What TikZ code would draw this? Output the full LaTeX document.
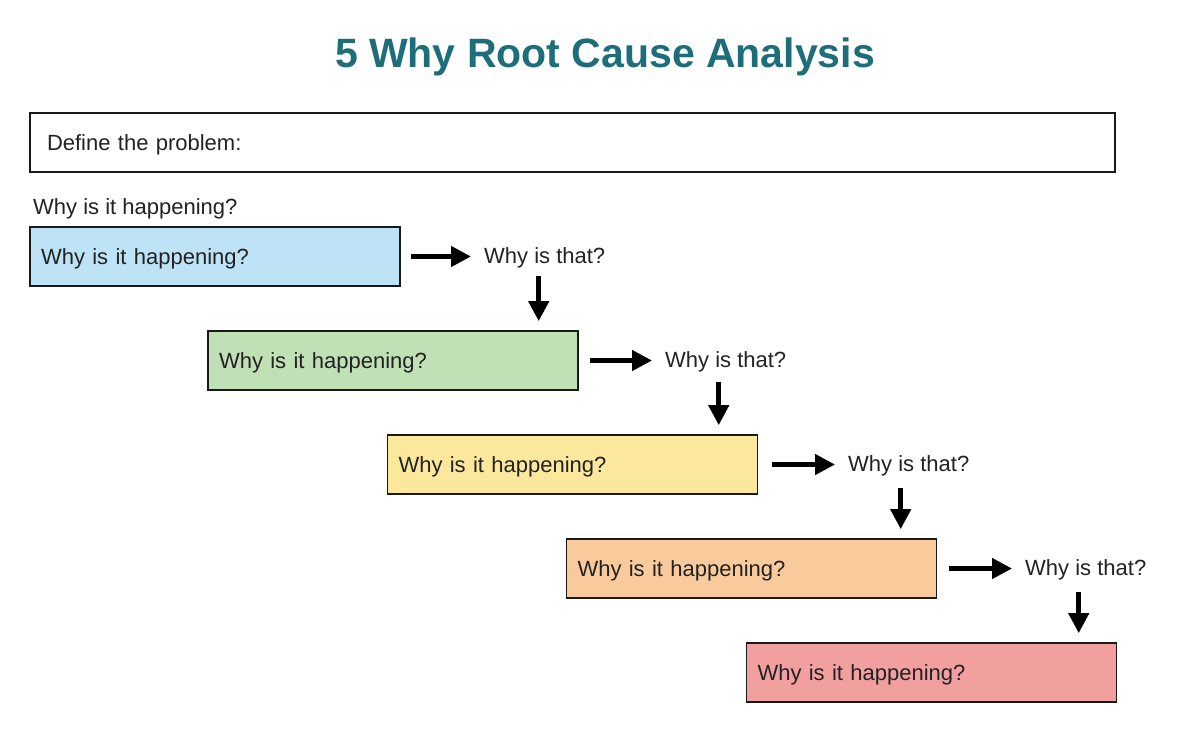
\documentclass[tikz,border=0pt]{standalone}
\usepackage{fontspec}
\setmainfont{Liberation Sans}
\usepackage{xcolor}
\usetikzlibrary{arrows.meta}

\definecolor{TitleTeal}{HTML}{1D6E78}
\definecolor{TextGray}{HTML}{222222}
\definecolor{WhyBlue}{HTML}{BEE3F6}
\definecolor{WhyGreen}{HTML}{C0E0B6}
\definecolor{WhyYellow}{HTML}{FCE89C}
\definecolor{WhyOrange}{HTML}{F8CA9C}
\definecolor{WhyRed}{HTML}{F29F9F}

\tikzset{
  BoxStyle/.style={draw=black!90, line width=1.8pt, minimum width=370pt,
    minimum height=59pt, inner xsep=11pt, text width=348pt, align=left,
    text depth=0pt, font=\fontsize{22}{26}\selectfont, text=TextGray},
  WhyStyle/.style={anchor=west, inner sep=0pt, text depth=0pt,
    font=\fontsize{22}{26}\selectfont, text=TextGray},
  ArrowStyle/.style={line width=4.5pt, -{Triangle[length=20pt,width=20pt]}}
}

\begin{document}
\begin{tikzpicture}[x=1pt,y=-1pt]
  \useasboundingbox (0,0) rectangle (1180,745);

  \node[font=\bfseries\fontsize{41}{48}\selectfont, text=TitleTeal] (t) at (605,57) {5 Why Root Cause Analysis};

  \node[BoxStyle, minimum width=1085pt, text width=1051pt, inner xsep=17pt, line width=1.5pt] (p) at (572.5,142.5) {Define the problem:};
  \node[WhyStyle] (q) at (33,207) {Why is it happening?};

  \node[BoxStyle, fill=WhyBlue]   (b1) at (215,256.5)   {Why is it happening?};
  \node[BoxStyle, fill=WhyGreen]  (b2) at (393,360.5)   {Why is it happening?};
  \node[BoxStyle, fill=WhyYellow] (b3) at (572.5,464.5) {Why is it happening?};
  \node[BoxStyle, fill=WhyOrange] (b4) at (751.5,568.5) {Why is it happening?};
  \node[BoxStyle, fill=WhyRed]    (b5) at (931.5,672.5) {Why is it happening?};

  \node[WhyStyle] (w1) at (484,256)  {Why is that?};
  \node[WhyStyle] (w2) at (665,360)  {Why is that?};
  \node[WhyStyle] (w3) at (848,464)  {Why is that?};
  \node[WhyStyle] (w4) at (1025,568) {Why is that?};

  % across to the question
  \draw[ArrowStyle, shorten <=10pt, shorten >=13pt] (b1.east) -- (w1.west |- b1.east);
  \draw[ArrowStyle, shorten <=11pt, shorten >=13pt] (b2.east) -- (w2.west |- b2.east);
  \draw[ArrowStyle, shorten <=14pt, shorten >=13pt] (b3.east) -- (w3.west |- b3.east);
  \draw[ArrowStyle, shorten <=12pt, shorten >=13pt] (b4.east) -- (w4.west |- b4.east);

  % down to the next box
  \draw[ArrowStyle, shorten <=12pt, shorten >=9pt] ([xshift=-6pt]w1.south) -- ([xshift=-6pt]w1.south |- b2.north);
  \draw[ArrowStyle, shorten <=14pt, shorten >=9pt] ([xshift=-7pt]w2.south) -- ([xshift=-7pt]w2.south |- b3.north);
  \draw[ArrowStyle, shorten <=16pt, shorten >=9pt] ([xshift=-8pt]w3.south) -- ([xshift=-8pt]w3.south |- b4.north);
  \draw[ArrowStyle, shorten <=16pt, shorten >=9pt] ([xshift=-7pt]w4.south) -- ([xshift=-7pt]w4.south |- b5.north);
\end{tikzpicture}
\end{document}
